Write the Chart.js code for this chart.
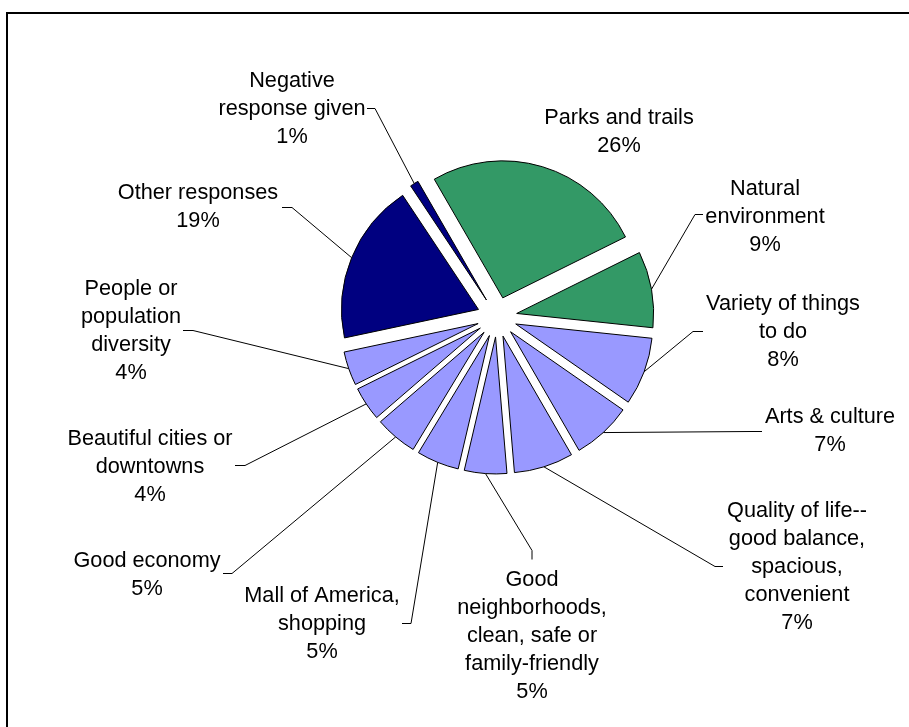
<!DOCTYPE html>
<html>
<head>
<meta charset="utf-8">
<title>Best things about living here</title>
<script src="https://cdn.jsdelivr.net/npm/chart.js@4/dist/chart.umd.min.js"></script>
<style>
  html, body { margin: 0; padding: 0; background: #fff; }
  #wrap { width: 909px; height: 727px; }
</style>
</head>
<body>
<div id="wrap"><canvas id="pie" width="909" height="727"></canvas></div>
<script>
// data, clockwise from the "Parks and trails" slice
var categories = [
  "Parks and trails",
  "Natural environment",
  "Variety of things to do",
  "Arts & culture",
  "Quality of life--good balance, spacious, convenient",
  "Good neighborhoods, clean, safe or family-friendly",
  "Mall of America, shopping",
  "Good economy",
  "Beautiful cities or downtowns",
  "People or population diversity",
  "Other responses",
  "Negative response given"
];
var percents = [26, 9, 8, 7, 7, 5, 5, 5, 4, 4, 19, 1];

// how each category label wraps on the chart
var labelLines = [
  ["Parks and trails"],
  ["Natural", "environment"],
  ["Variety of things", "to do"],
  ["Arts & culture"],
  ["Quality of life--", "good balance,", "spacious,", "convenient"],
  ["Good", "neighborhoods,", "clean, safe or", "family-friendly"],
  ["Mall of America,", "shopping"],
  ["Good economy"],
  ["Beautiful cities or", "downtowns"],
  ["People or", "population", "diversity"],
  ["Other responses"],
  ["Negative", "response given"]
];

var GREEN = "#339966", NAVY = "#000080", LILAC = "#9999FF";
var sliceColors = [GREEN, GREEN, LILAC, LILAC, LILAC, LILAC, LILAC, LILAC, LILAC, LILAC, NAVY, NAVY];

// label placement: text centre x, first baseline y, leader start (lx, ly), stub end (sx, sy)
var labelPos = [
  {x: 619, y: 124},
  {x: 765, y: 195, lx: 703, ly: 214, sx: 695, sy: 214},
  {x: 783, y: 310, lx: 703, ly: 331, sx: 693, sy: 331},
  {x: 830, y: 423, lx: 762, ly: 431, sx: 752, sy: 431},
  {x: 797, y: 517, lx: 723, ly: 566, sx: 715, sy: 566},
  {x: 532, y: 586, lx: 532, ly: 559, sx: 532, sy: 550},
  {x: 322, y: 602, lx: 402, ly: 623, sx: 411, sy: 623},
  {x: 147, y: 567, lx: 223, ly: 573, sx: 232, sy: 573},
  {x: 150, y: 445, lx: 235, ly: 465, sx: 245, sy: 465},
  {x: 131, y: 295, lx: 183, ly: 330, sx: 193, sy: 330},
  {x: 198, y: 199, lx: 282, ly: 207, sx: 292, sy: 207},
  {x: 292, y: 87,  lx: 367, ly: 108, sx: 375, sy: 108}
];

var EXPLODE = 20;
var LINE_H = 28;
var FONT = '21.7px "Liberation Sans", Arial, sans-serif';

// push every slice out from the centre along its middle angle
var explodePlugin = {
  id: "explode",
  afterDatasetUpdate: function(chart, args) {
    args.meta.data.forEach(function(arc) {
      var mid = (arc.startAngle + arc.endAngle) / 2;
      arc.x += Math.cos(mid) * EXPLODE;
      arc.y += Math.sin(mid) * EXPLODE;
    });
  }
};

// category + percent labels with leader lines, plus the frame
var labelPlugin = {
  id: "sliceLabels",
  afterDatasetsDraw: function(chart) {
    var ctx = chart.ctx;
    var arcs = chart.getDatasetMeta(0).data;
    ctx.save();

    // frame (only top and left edges fall inside the picture)
    ctx.strokeStyle = "#000";
    ctx.lineWidth = 2;
    ctx.beginPath();
    ctx.moveTo(7, 727);
    ctx.lineTo(7, 13);
    ctx.lineTo(909, 13);
    ctx.stroke();

    ctx.lineWidth = 1;
    ctx.strokeStyle = "#000";
    arcs.forEach(function(arc, i) {
      var p = labelPos[i];
      if (p.lx === undefined) return;
      var mid = (arc.startAngle + arc.endAngle) / 2;
      var ax = arc.x + Math.cos(mid) * arc.outerRadius;
      var ay = arc.y + Math.sin(mid) * arc.outerRadius;
      ctx.beginPath();
      ctx.moveTo(p.lx, p.ly + 0.5);
      ctx.lineTo(p.sx, p.sy + 0.5);
      ctx.lineTo(ax, ay);
      ctx.stroke();
    });

    ctx.font = FONT;
    ctx.fillStyle = "#000";
    ctx.textAlign = "center";
    ctx.textBaseline = "alphabetic";
    labelLines.forEach(function(lines, i) {
      var p = labelPos[i];
      var all = lines.concat([percents[i] + "%"]);
      all.forEach(function(t, k) {
        ctx.fillText(t, p.x, p.y + k * LINE_H);
      });
    });
    ctx.restore();
  }
};

new Chart(document.getElementById("pie"), {
  type: "pie",
  data: {
    labels: categories,
    datasets: [{
      data: percents,
      backgroundColor: sliceColors,
      borderColor: "#000",
      borderWidth: 1,
      borderJoinStyle: "miter"
    }]
  },
  options: {
    responsive: false,
    animation: false,
    rotation: -30,
    radius: 137,
    layout: { padding: { left: 100, right: 15, top: 20, bottom: 113 } },
    plugins: {
      legend: { display: false },
      tooltip: { enabled: false }
    }
  },
  plugins: [explodePlugin, labelPlugin]
});
</script>
</body>
</html>
